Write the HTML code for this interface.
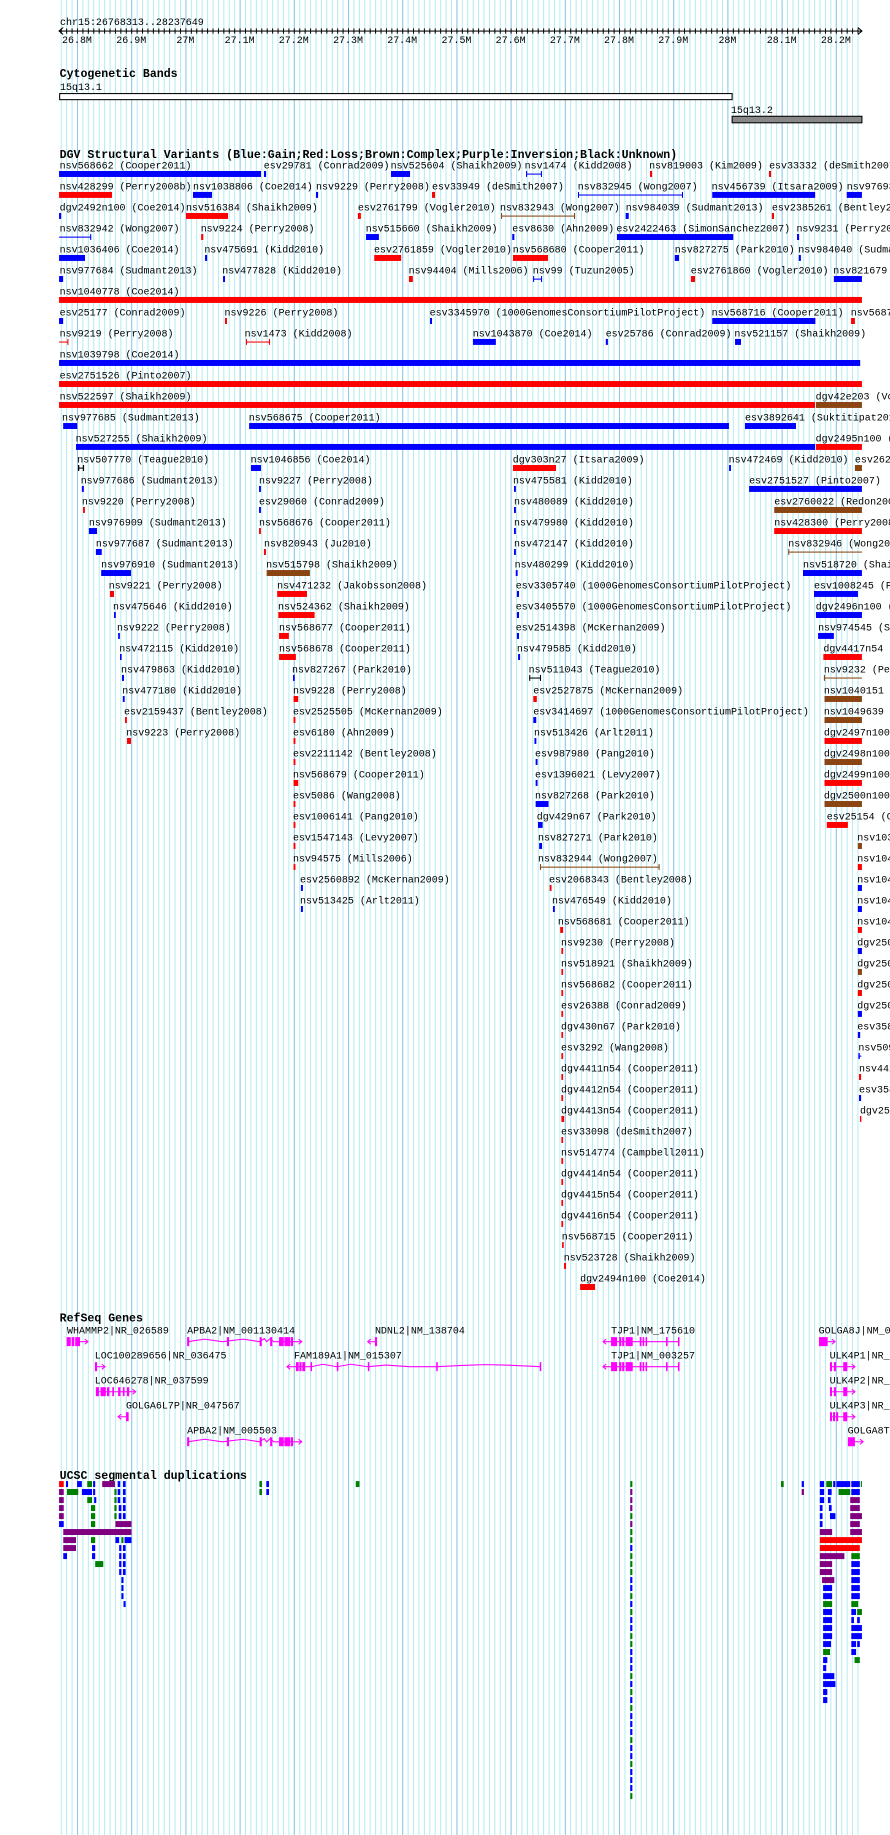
<!DOCTYPE html>
<html><head><meta charset="utf-8"><style>
html,body{margin:0;padding:0;background:#fff;}
svg{display:block;}
text{font-family:"Liberation Mono",monospace;font-size:8.55px;fill:#000;}
text.t{font-weight:bold;font-size:9.9px;}
.b{fill:#0000ff}.r{fill:#ff0000}.n{fill:#8b4513}.p{fill:#800080}.g{fill:#008000}.k{fill:#000}.m{fill:#ff00ff}
</style></head><body>
<svg width="890" height="1835" viewBox="0 0 761 1569" xmlns="http://www.w3.org/2000/svg">
<defs>
<pattern id="minor" patternUnits="userSpaceOnUse" x="65.84" y="0" width="4.6345" height="10"><rect x="0" y="0" width="0.85" height="10" fill="#b2ecf2"/></pattern>
<pattern id="major" patternUnits="userSpaceOnUse" x="65.84" y="0" width="46.345" height="10"><rect x="0" y="0" width="0.85" height="10" fill="#8cc6ea"/></pattern>
<pattern id="tick" patternUnits="userSpaceOnUse" x="65.84" y="0" width="4.6345" height="10"><rect x="0" y="0" width="0.85" height="10" fill="#000"/></pattern>
</defs>
<rect x="0" y="0" width="761" height="1569" fill="#fff"/>
<rect x="50.5" y="0" width="686.5" height="1569" fill="url(#minor)"/>
<rect x="50.5" y="0" width="686.5" height="1569" fill="url(#major)"/>

<!-- ruler -->
<text x="51.3" y="21.4">chr15:26768313..28237649</text>
<rect x="50.5" y="26.1" width="686.5" height="0.9" class="k"/>
<rect x="50.5" y="24.3" width="686.5" height="4.5" fill="url(#tick)"/>
<polyline points="54,23.5 50.5,26.5 54,29.5" fill="none" stroke="#000" stroke-width="0.9"/>
<polyline points="733.5,23.5 737,26.5 733.5,29.5" fill="none" stroke="#000" stroke-width="0.9"/>
<g text-anchor="middle">
<text x="65.8" y="36.8">26.8M</text><text x="112.2" y="36.8">26.9M</text><text x="158.5" y="36.8">27M</text>
<text x="204.9" y="36.8">27.1M</text><text x="251.2" y="36.8">27.2M</text><text x="297.6" y="36.8">27.3M</text>
<text x="343.9" y="36.8">27.4M</text><text x="390.3" y="36.8">27.5M</text><text x="436.6" y="36.8">27.6M</text>
<text x="483" y="36.8">27.7M</text><text x="529.3" y="36.8">27.8M</text><text x="575.7" y="36.8">27.9M</text>
<text x="622" y="36.8">28M</text><text x="668.4" y="36.8">28.1M</text><text x="714.7" y="36.8">28.2M</text>
</g>

<!-- cytobands -->
<text class="t" x="51" y="65.8">Cytogenetic Bands</text>
<text x="51.3" y="77">15q13.1</text>
<rect x="51" y="80" width="575" height="5.2" fill="#fff" stroke="#000" stroke-width="0.9"/>
<text x="625" y="96.6">15q13.2</text>
<rect x="626" y="99.4" width="111" height="5.6" fill="#888" stroke="#000" stroke-width="0.9"/>

<!-- DGV -->
<text class="t" x="51" y="135.1">DGV Structural Variants (Blue:Gain;Red:Loss;Brown:Complex;Purple:Inversion;Black:Unknown)</text>

<g transform="translate(0,144.1)">
<text x="51">nsv568662 (Cooper2011)</text><rect class="b" x="50.5" y="2.1" width="172.7" height="5.1"/>
<text x="225.5">esv29781 (Conrad2009)</text><rect class="b" x="225.7" y="2.1" width="1.8" height="5.1"/>
<text x="334">nsv525604 (Shaikh2009)</text><rect class="b" x="334.3" y="2.1" width="16.3" height="5.1"/>
<text x="448.6">nsv1474 (Kidd2008)</text><rect class="b" x="449.8" y="4.3" width="13.6" height="0.9"/><rect class="b" x="449.8" y="2.1" width="0.9" height="5.1"/><rect class="b" x="462.5" y="2.1" width="0.9" height="5.1"/>
<text x="555">nsv819003 (Kim2009)</text><rect class="r" x="555.8" y="2.1" width="1.8" height="5.1"/>
<text x="657.6">esv33332 (deSmith2007)</text><rect class="r" x="657.5" y="2.1" width="1.8" height="5.1"/>
</g>
<g transform="translate(0,162)">
<text x="51">nsv428299 (Perry2008b)</text><rect class="r" x="50.5" y="2.1" width="45.3" height="5.1"/>
<text x="165">nsv1038806 (Coe2014)</text><rect class="b" x="165" y="2.1" width="16.3" height="5.1"/>
<text x="270.2">nsv9229 (Perry2008)</text><rect class="b" x="270.2" y="2.1" width="1.8" height="5.1"/>
<text x="369.4">esv33949 (deSmith2007)</text><rect class="r" x="369.4" y="2.1" width="2.6" height="5.1"/>
<text x="494">nsv832945 (Wong2007)</text><rect class="b" x="494.2" y="4.3" width="89.8" height="0.9"/><rect class="b" x="494.2" y="2.1" width="0.9" height="5.1"/><rect class="b" x="583.1" y="2.1" width="0.9" height="5.1"/>
<text x="608.5">nsv456739 (Itsara2009)</text><rect class="b" x="609" y="2.1" width="88" height="5.1"/>
<text x="724">nsv976938 (Sudmant2013)</text><rect class="b" x="724" y="2.1" width="13" height="5.1"/>
</g>
<g transform="translate(0,180)">
<text x="51">dgv2492n100 (Coe2014)</text><rect class="b" x="50.5" y="2.1" width="1.8" height="5.1"/>
<text x="159">nsv516384 (Shaikh2009)</text><rect class="r" x="159" y="2.1" width="36" height="5.1"/>
<text x="306">esv2761799 (Vogler2010)</text><rect class="r" x="306" y="2.1" width="2.6" height="5.1"/>
<text x="427.5">nsv832943 (Wong2007)</text><rect class="n" x="428.4" y="4.3" width="63.3" height="0.9"/><rect class="n" x="428.4" y="2.1" width="0.9" height="5.1"/><rect class="n" x="490.8" y="2.1" width="0.9" height="5.1"/>
<text x="535">nsv984039 (Sudmant2013)</text><rect class="b" x="535" y="2.1" width="2.6" height="5.1"/>
<text x="660">esv2385261 (Bentley2008)</text><rect class="r" x="660" y="2.1" width="1.8" height="5.1"/>
</g>
<g transform="translate(0,198)">
<text x="51">nsv832942 (Wong2007)</text><rect class="b" x="50.5" y="4.3" width="27.5" height="0.9"/><rect class="b" x="77.1" y="2.1" width="0.9" height="5.1"/>
<text x="171.6">nsv9224 (Perry2008)</text><rect class="r" x="172" y="2.1" width="1.8" height="5.1"/>
<text x="312.7">nsv515660 (Shaikh2009)</text><rect class="b" x="313" y="2.1" width="11" height="5.1"/>
<text x="438">esv8630 (Ahn2009)</text><rect class="b" x="438" y="2.1" width="1.8" height="5.1"/>
<text x="527">esv2422463 (SimonSanchez2007)</text><rect class="b" x="527.5" y="2.1" width="99.5" height="5.1"/>
<text x="681">nsv9231 (Perry2008)</text><rect class="b" x="681.5" y="2.1" width="1.8" height="5.1"/>
</g>
<g transform="translate(0,215.9)">
<text x="51">nsv1036406 (Coe2014)</text><rect class="b" x="50.5" y="2.1" width="22.2" height="5.1"/>
<text x="174.7">nsv475691 (Kidd2010)</text><rect class="b" x="175.3" y="2.1" width="1.8" height="5.1"/>
<text x="319.8">esv2761859 (Vogler2010)</text><rect class="r" x="320" y="2.1" width="23" height="5.1"/>
<text x="438.4">nsv568680 (Cooper2011)</text><rect class="r" x="438.6" y="2.1" width="30" height="5.1"/>
<text x="577">nsv827275 (Park2010)</text><rect class="b" x="577" y="2.1" width="3.6" height="5.1"/>
<text x="682.6">nsv984040 (Sudmant2013)</text><rect class="b" x="683" y="2.1" width="1.8" height="5.1"/>
</g>
<g transform="translate(0,233.9)">
<text x="51">nsv977684 (Sudmant2013)</text><rect class="b" x="50.5" y="2.1" width="3.5" height="5.1"/>
<text x="190">nsv477828 (Kidd2010)</text><rect class="b" x="190.7" y="2.1" width="1.7" height="5.1"/>
<text x="349.4">nsv94404 (Mills2006)</text><rect class="r" x="349.7" y="2.1" width="3.3" height="5.1"/>
<text x="455.5">nsv99 (Tuzun2005)</text><rect class="b" x="455.8" y="4.3" width="7.7" height="0.9"/><rect class="b" x="455.8" y="2.1" width="0.9" height="5.1"/><rect class="b" x="462.6" y="2.1" width="0.9" height="5.1"/>
<text x="590.6">esv2761860 (Vogler2010)</text><rect class="r" x="590.8" y="2.1" width="3.5" height="5.1"/>
<text x="712.5">nsv821679 (Park2010)</text><rect class="b" x="713" y="2.1" width="24" height="5.1"/>
</g>
<g transform="translate(0,251.8)">
<text x="51">nsv1040778 (Coe2014)</text><rect class="r" x="50.5" y="2.1" width="686.5" height="5.1"/>
</g>
<g transform="translate(0,269.8)">
<text x="51">esv25177 (Conrad2009)</text><rect class="b" x="50.5" y="2.1" width="3.5" height="5.1"/>
<text x="192">nsv9226 (Perry2008)</text><rect class="r" x="192.4" y="2.1" width="1.7" height="5.1"/>
<text x="367.4">esv3345970 (1000GenomesConsortiumPilotProject)</text><rect class="b" x="367.7" y="2.1" width="1.7" height="5.1"/>
<text x="608.5">nsv568716 (Cooper2011)</text><rect class="b" x="609" y="2.1" width="88.2" height="5.1"/>
<text x="727.4">nsv568717 (Cooper2011)</text><rect class="r" x="727.7" y="2.1" width="3.3" height="5.1"/>
</g>
<g transform="translate(0,287.7)">
<text x="51">nsv9219 (Perry2008)</text><rect class="r" x="50.5" y="4.3" width="8" height="0.9"/><rect class="r" x="57.6" y="2.1" width="0.9" height="5.1"/>
<text x="209.2">nsv1473 (Kidd2008)</text><rect class="r" x="210.3" y="4.3" width="20.6" height="0.9"/><rect class="r" x="210.3" y="2.1" width="0.9" height="5.1"/><rect class="r" x="230" y="2.1" width="0.9" height="5.1"/>
<text x="404.2">nsv1043870 (Coe2014)</text><rect class="b" x="404.4" y="2.1" width="19.6" height="5.1"/>
<text x="517.9">esv25786 (Conrad2009)</text><rect class="b" x="518" y="2.1" width="1.8" height="5.1"/>
<text x="627.9">nsv521157 (Shaikh2009)</text><rect class="b" x="628.5" y="2.1" width="5.1" height="5.1"/>
</g>
<g transform="translate(0,305.7)">
<text x="51">nsv1039798 (Coe2014)</text><rect class="b" x="50.5" y="2.1" width="685" height="5.1"/>
</g>
<g transform="translate(0,323.7)">
<text x="51">esv2751526 (Pinto2007)</text><rect class="r" x="50.5" y="2.1" width="686.5" height="5.1"/>
</g>
<g transform="translate(0,341.6)">
<text x="51">nsv522597 (Shaikh2009)</text><rect class="r" x="50.5" y="2.1" width="646.4" height="5.1"/>
<text x="697.4">dgv42e203 (Vogler2010)</text><rect class="n" x="697.7" y="2.1" width="39.3" height="5.1"/>
</g>
<g transform="translate(0,359.6)">
<text x="53">nsv977685 (Sudmant2013)</text><rect class="b" x="54" y="2.1" width="12" height="5.1"/>
<text x="212.7">nsv568675 (Cooper2011)</text><rect class="b" x="213" y="2.1" width="410.3" height="5.1"/>
<text x="637">esv3892641 (Suktitipat2014)</text><rect class="b" x="637" y="2.1" width="43.6" height="5.1"/>
</g>
<g transform="translate(0,377.5)">
<text x="64.7">nsv527255 (Shaikh2009)</text><rect class="b" x="65" y="2.1" width="632" height="5.1"/>
<text x="697.4">dgv2495n100 (Coe2014)</text><rect class="r" x="697.7" y="2.1" width="39.3" height="5.1"/>
</g>
<g transform="translate(0,395.5)">
<text x="66.1">nsv507770 (Teague2010)</text><rect class="k" x="66.7" y="4.3" width="5.1" height="0.9"/><rect class="k" x="66.7" y="2.1" width="1.1" height="5.1"/><rect class="k" x="70.8" y="2.1" width="1.1" height="5.1"/>
<text x="214.3">nsv1046856 (Coe2014)</text><rect class="b" x="214.6" y="2.1" width="8.6" height="5.1"/>
<text x="438.4">dgv303n27 (Itsara2009)</text><rect class="r" x="438.6" y="2.1" width="36.8" height="5.1"/>
<text x="623">nsv472469 (Kidd2010)</text><rect class="b" x="623.4" y="2.1" width="1.6" height="5.1"/>
<text x="731">esv2621 (Conrad2009)</text><rect class="n" x="731" y="2.1" width="6" height="5.1"/>
</g>
<g transform="translate(0,413.4)">
<text x="69">nsv977686 (Sudmant2013)</text><rect class="b" x="70" y="2.1" width="1.7" height="5.1"/>
<text x="221.5">nsv9227 (Perry2008)</text><rect class="b" x="221.5" y="2.1" width="1.6" height="5.1"/>
<text x="438.6">nsv475581 (Kidd2010)</text><rect class="b" x="439.5" y="2.1" width="1.6" height="5.1"/>
<text x="640.5">esv2751527 (Pinto2007)</text><rect class="b" x="640.5" y="2.1" width="96.5" height="5.1"/>
</g>
<g transform="translate(0,431.4)">
<text x="70">nsv9220 (Perry2008)</text><rect class="r" x="71" y="2.1" width="1.6" height="5.1"/>
<text x="221.5">esv29060 (Conrad2009)</text><rect class="b" x="221.5" y="2.1" width="1.6" height="5.1"/>
<text x="439.5">nsv480089 (Kidd2010)</text><rect class="b" x="439.5" y="2.1" width="1.6" height="5.1"/>
<text x="662">esv2760022 (Redon2006)</text><rect class="n" x="662" y="2.1" width="75" height="5.1"/>
</g>
<g transform="translate(0,449.4)">
<text x="76">nsv976909 (Sudmant2013)</text><rect class="b" x="76" y="2.1" width="7" height="5.1"/>
<text x="221.5">nsv568676 (Cooper2011)</text><rect class="r" x="221.5" y="2.1" width="1.6" height="5.1"/>
<text x="439.5">nsv479980 (Kidd2010)</text><rect class="b" x="439.5" y="2.1" width="1.6" height="5.1"/>
<text x="662">nsv428300 (Perry2008b)</text><rect class="r" x="662" y="2.1" width="75" height="5.1"/>
</g>
<g transform="translate(0,467.3)">
<text x="82">nsv977687 (Sudmant2013)</text><rect class="b" x="82" y="2.1" width="5" height="5.1"/>
<text x="225.7">nsv820943 (Ju2010)</text><rect class="r" x="225.7" y="2.1" width="1.7" height="5.1"/>
<text x="439.5">nsv472147 (Kidd2010)</text><rect class="b" x="439.5" y="2.1" width="1.6" height="5.1"/>
<text x="674">nsv832946 (Wong2007)</text><rect class="n" x="674" y="4.3" width="63" height="0.9"/><rect class="n" x="674" y="2.1" width="0.9" height="5.1"/>
</g>
<g transform="translate(0,485.3)">
<text x="86.5">nsv976910 (Sudmant2013)</text><rect class="b" x="86.5" y="2.1" width="25.5" height="5.1"/>
<text x="227.5">nsv515798 (Shaikh2009)</text><rect class="n" x="228" y="2.1" width="37" height="5.1"/>
<text x="440">nsv480299 (Kidd2010)</text><rect class="b" x="441" y="2.1" width="1.6" height="5.1"/>
<text x="686.6">nsv518720 (Shaikh2009)</text><rect class="b" x="686.6" y="2.1" width="50.4" height="5.1"/>
</g>
<g transform="translate(0,503.2)">
<text x="93">nsv9221 (Perry2008)</text><rect class="r" x="94" y="2.1" width="3.5" height="5.1"/>
<text x="237">nsv471232 (Jakobsson2008)</text><rect class="r" x="237" y="2.1" width="25.5" height="5.1"/>
<text x="441">esv3305740 (1000GenomesConsortiumPilotProject)</text><rect class="b" x="442" y="2.1" width="1.8" height="5.1"/>
<text x="696">esv1008245 (Pang2010)</text><rect class="b" x="696" y="2.1" width="37.6" height="5.1"/>
</g>
<g transform="translate(0,521.2)">
<text x="96.6">nsv475646 (Kidd2010)</text><rect class="b" x="97.5" y="2.1" width="1.5" height="5.1"/>
<text x="237.7">nsv524362 (Shaikh2009)</text><rect class="r" x="238" y="2.1" width="31" height="5.1"/>
<text x="441">esv3405570 (1000GenomesConsortiumPilotProject)</text><rect class="b" x="442" y="2.1" width="1.8" height="5.1"/>
<text x="697.5">dgv2496n100 (Coe2014)</text><rect class="b" x="697.7" y="2.1" width="39.3" height="5.1"/>
</g>
<g transform="translate(0,539.1)">
<text x="100">nsv9222 (Perry2008)</text><rect class="b" x="101" y="2.1" width="1.5" height="5.1"/>
<text x="238.6">nsv568677 (Cooper2011)</text><rect class="r" x="238.6" y="2.1" width="8.4" height="5.1"/>
<text x="441">esv2514398 (McKernan2009)</text><rect class="b" x="442" y="2.1" width="1.8" height="5.1"/>
<text x="699.5">nsv974545 (Sudmant2013)</text><rect class="b" x="699.5" y="2.1" width="13.5" height="5.1"/>
</g>
<g transform="translate(0,557.1)">
<text x="102">nsv472115 (Kidd2010)</text><rect class="b" x="102.6" y="2.1" width="1.4" height="5.1"/>
<text x="238.6">nsv568678 (Cooper2011)</text><rect class="r" x="238.6" y="2.1" width="14.4" height="5.1"/>
<text x="442">nsv479585 (Kidd2010)</text><rect class="b" x="443" y="2.1" width="1.7" height="5.1"/>
<text x="704">dgv4417n54</text><rect class="r" x="704" y="2.1" width="33" height="5.1"/>
</g>
<g transform="translate(0,575)">
<text x="103.5">nsv479863 (Kidd2010)</text><rect class="b" x="104.3" y="2.1" width="1.7" height="5.1"/>
<text x="249.7">nsv827267 (Park2010)</text><rect class="b" x="250.5" y="2.1" width="1.5" height="5.1"/>
<text x="452">nsv511043 (Teague2010)</text><rect class="k" x="452.5" y="4.3" width="10.1" height="0.9"/><rect class="k" x="452.5" y="2.1" width="0.9" height="5.1"/><rect class="k" x="461.7" y="2.1" width="0.9" height="5.1"/>
<text x="704.5">nsv9232 (Perry2008)</text><rect class="n" x="704.5" y="4.3" width="32.5" height="0.9"/><rect class="n" x="704.5" y="2.1" width="0.9" height="5.1"/>
</g>
<g transform="translate(0,593)">
<text x="104.5">nsv477180 (Kidd2010)</text><rect class="b" x="105" y="2.1" width="1.6" height="5.1"/>
<text x="250.5">nsv9228 (Perry2008)</text><rect class="r" x="251" y="2.1" width="4" height="5.1"/>
<text x="456">esv2527875 (McKernan2009)</text><rect class="r" x="456" y="2.1" width="3" height="5.1"/>
<text x="704.5">nsv1040151</text><rect class="n" x="705" y="2.1" width="32" height="5.1"/>
</g>
<g transform="translate(0,611)">
<text x="106">esv2159437 (Bentley2008)</text><rect class="r" x="106.9" y="2.1" width="1.6" height="5.1"/>
<text x="250.5">esv2525505 (McKernan2009)</text><rect class="r" x="251" y="2.1" width="1.6" height="5.1"/>
<text x="456">esv3414697 (1000GenomesConsortiumPilotProject)</text><rect class="b" x="456" y="2.1" width="2.5" height="5.1"/>
<text x="704.5">nsv1049639</text><rect class="n" x="705" y="2.1" width="32" height="5.1"/>
</g>
<g transform="translate(0,628.9)">
<text x="108">nsv9223 (Perry2008)</text><rect class="r" x="108.6" y="2.1" width="3.4" height="5.1"/>
<text x="250.5">esv6180 (Ahn2009)</text><rect class="r" x="251" y="2.1" width="1.6" height="5.1"/>
<text x="456.6">nsv513426 (Arlt2011)</text><rect class="b" x="457" y="2.1" width="1.6" height="5.1"/>
<text x="704.5">dgv2497n100</text><rect class="r" x="705" y="2.1" width="32" height="5.1"/>
</g>
<g transform="translate(0,646.9)">
<text x="250.5">esv2211142 (Bentley2008)</text><rect class="r" x="251" y="2.1" width="1.6" height="5.1"/>
<text x="457.5">esv987980 (Pang2010)</text><rect class="b" x="458" y="2.1" width="1.6" height="5.1"/>
<text x="704.5">dgv2498n100</text><rect class="n" x="705" y="2.1" width="32" height="5.1"/>
</g>
<g transform="translate(0,664.8)">
<text x="250.5">nsv568679 (Cooper2011)</text><rect class="r" x="251" y="2.1" width="4" height="5.1"/>
<text x="457.5">esv1396021 (Levy2007)</text><rect class="b" x="458" y="2.1" width="1.6" height="5.1"/>
<text x="704.5">dgv2499n100</text><rect class="r" x="705" y="2.1" width="32" height="5.1"/>
</g>
<g transform="translate(0,682.8)">
<text x="250.5">esv5086 (Wang2008)</text><rect class="r" x="251" y="2.1" width="1.6" height="5.1"/>
<text x="457.5">nsv827268 (Park2010)</text><rect class="b" x="458" y="2.1" width="11" height="5.1"/>
<text x="704.5">dgv2500n100</text><rect class="n" x="705" y="2.1" width="32" height="5.1"/>
</g>
<g transform="translate(0,700.7)">
<text x="250.5">esv1006141 (Pang2010)</text><rect class="r" x="251" y="2.1" width="1.6" height="5.1"/>
<text x="459">dgv429n67 (Park2010)</text><rect class="b" x="460" y="2.1" width="4" height="5.1"/>
<text x="706.9">esv25154 (Conrad2009)</text><rect class="r" x="707" y="2.1" width="18" height="5.1"/>
</g>
<g transform="translate(0,718.7)">
<text x="250.5">esv1547143 (Levy2007)</text><rect class="r" x="251" y="2.1" width="1.6" height="5.1"/>
<text x="460">nsv827271 (Park2010)</text><rect class="b" x="461" y="2.1" width="2.5" height="5.1"/>
<text x="733">nsv1036411</text><rect class="n" x="733.5" y="2.1" width="3.5" height="5.1"/>
</g>
<g transform="translate(0,736.7)">
<text x="250.5">nsv94575 (Mills2006)</text><rect class="r" x="251" y="2.1" width="1.6" height="5.1"/>
<text x="460">nsv832944 (Wong2007)</text><rect class="n" x="461.7" y="4.3" width="102.3" height="0.9"/><rect class="n" x="461.7" y="2.1" width="0.9" height="5.1"/><rect class="n" x="563.1" y="2.1" width="0.9" height="5.1"/>
<text x="733">nsv1041234</text><rect class="r" x="733.5" y="2.1" width="3.5" height="5.1"/>
</g>
<g transform="translate(0,754.6)">
<text x="256.5">esv2560892 (McKernan2009)</text><rect class="b" x="257.3" y="2.1" width="1.7" height="5.1"/>
<text x="469.4">esv2068343 (Bentley2008)</text><rect class="r" x="470" y="2.1" width="1.6" height="5.1"/>
<text x="733">nsv1042345</text><rect class="b" x="733.5" y="2.1" width="3.5" height="5.1"/>
</g>
<g transform="translate(0,772.6)">
<text x="256.5">nsv513425 (Arlt2011)</text><rect class="b" x="257.3" y="2.1" width="1.7" height="5.1"/>
<text x="472">nsv476549 (Kidd2010)</text><rect class="b" x="472.8" y="2.1" width="1.6" height="5.1"/>
<text x="733">nsv1043456</text><rect class="b" x="733.5" y="2.1" width="3.5" height="5.1"/>
</g>
<g transform="translate(0,790.5)">
<text x="477">nsv568681 (Cooper2011)</text><rect class="r" x="479" y="2.1" width="2.5" height="5.1"/>
<text x="733">nsv1044567</text><rect class="r" x="733.5" y="2.1" width="3.5" height="5.1"/>
</g>
<g transform="translate(0,808.5)">
<text x="479.7">nsv9230 (Perry2008)</text><rect class="r" x="480" y="2.1" width="1.5" height="5.1"/>
<text x="733">dgv2501n100</text><rect class="b" x="733.5" y="2.1" width="3.5" height="5.1"/>
</g>
<g transform="translate(0,826.4)">
<text x="479.7">nsv518921 (Shaikh2009)</text><rect class="r" x="480" y="2.1" width="1.5" height="5.1"/>
<text x="733">dgv2502n100</text><rect class="n" x="733.5" y="2.1" width="3.5" height="5.1"/>
</g>
<g transform="translate(0,844.4)">
<text x="479.7">nsv568682 (Cooper2011)</text><rect class="r" x="480" y="2.1" width="1.5" height="5.1"/>
<text x="733">dgv2503n100</text><rect class="r" x="733.5" y="2.1" width="3.5" height="5.1"/>
</g>
<g transform="translate(0,862.3)">
<text x="479.7">esv26388 (Conrad2009)</text><rect class="r" x="480" y="2.1" width="1.5" height="5.1"/>
<text x="733">dgv2504n100</text><rect class="b" x="733.5" y="2.1" width="3.5" height="5.1"/>
</g>
<g transform="translate(0,880.3)">
<text x="479.7">dgv430n67 (Park2010)</text><rect class="r" x="480" y="2.1" width="1.5" height="5.1"/>
<text x="733">esv3585</text><rect class="b" x="733.5" y="2.1" width="2" height="5.1"/>
</g>
<g transform="translate(0,898.3)">
<text x="479.7">esv3292 (Wang2008)</text><rect class="r" x="480" y="2.1" width="1.5" height="5.1"/>
<text x="734">nsv5091</text><rect class="b" x="734" y="2.1" width="1.2" height="5.1"/><rect class="b" x="734" y="4.3" width="2.5" height="0.9"/>
</g>
<g transform="translate(0,916.2)">
<text x="479.7">dgv4411n54 (Cooper2011)</text><rect class="r" x="480" y="2.1" width="1.5" height="5.1"/>
<text x="734.5">nsv4421</text><rect class="r" x="734.5" y="2.1" width="1.8" height="5.1"/>
</g>
<g transform="translate(0,934.2)">
<text x="479.7">dgv4412n54 (Cooper2011)</text><rect class="r" x="480" y="2.1" width="1.5" height="5.1"/>
<text x="734.5">esv3586</text><rect class="b" x="734.5" y="2.1" width="1.8" height="5.1"/>
</g>
<g transform="translate(0,952.1)">
<text x="479.7">dgv4413n54 (Cooper2011)</text><rect class="r" x="480" y="2.1" width="2.4" height="5.1"/>
<text x="735.3">dgv25</text><rect class="r" x="735.3" y="2.1" width="1.2" height="5.1"/>
</g>
<g transform="translate(0,970.1)"><text x="479.7">esv33098 (deSmith2007)</text><rect class="r" x="480" y="2.1" width="1.5" height="5.1"/></g>
<g transform="translate(0,988)"><text x="479.7">nsv514774 (Campbell2011)</text><rect class="r" x="480" y="2.1" width="1.5" height="5.1"/></g>
<g transform="translate(0,1006)"><text x="479.7">dgv4414n54 (Cooper2011)</text><rect class="r" x="480" y="2.1" width="1.5" height="5.1"/></g>
<g transform="translate(0,1023.9)"><text x="479.7">dgv4415n54 (Cooper2011)</text><rect class="r" x="480" y="2.1" width="1.5" height="5.1"/></g>
<g transform="translate(0,1041.9)"><text x="479.7">dgv4416n54 (Cooper2011)</text><rect class="r" x="480" y="2.1" width="1.5" height="5.1"/></g>
<g transform="translate(0,1059.9)"><text x="480.3">nsv568715 (Cooper2011)</text><rect class="r" x="480.6" y="2.1" width="1.4" height="5.1"/></g>
<g transform="translate(0,1077.8)"><text x="482">nsv523728 (Shaikh2009)</text><rect class="r" x="482.3" y="2.1" width="1.7" height="5.1"/></g>
<g transform="translate(0,1095.8)"><text x="496">dgv2494n100 (Coe2014)</text><rect class="r" x="496" y="2.1" width="12.8" height="5.1"/></g>

<!-- RefSeq -->
<text class="t" x="51" y="1130">RefSeq Genes</text>
<g fill="none" stroke="#ff00ff" stroke-width="0.9">
<!-- row A center 1147.2 -->
<polyline points="68.4,1147.2 75.2,1147.2"/><polyline points="72.5,1145 75.2,1147.2 72.5,1149.4"/>
<polyline points="160.5,1147.2 175,1145 190,1147.2 208,1145 222,1147.2 226,1144.5 228,1147.2 231,1144.5 234,1147.2 258,1147.2"/><polyline points="255.3,1145 258,1147.2 255.3,1149.4"/>
<polyline points="314.4,1147.2 321,1147.2"/><polyline points="317.1,1145 314.4,1147.2 317.1,1149.4"/>
<polyline points="515.6,1147.2 580,1147.2"/><polyline points="518.3,1145 515.6,1147.2 518.3,1149.4"/>
<polyline points="707.7,1147.2 714,1147.2"/><polyline points="711.3,1145 714,1147.2 711.3,1149.4"/>
<!-- row B 1168.6 -->
<polyline points="81.5,1168.6 89.8,1168.6"/><polyline points="87.1,1166.4 89.8,1168.6 87.1,1170.8"/>
<polyline points="245.4,1168.6 266,1168.6 276,1166.5 288,1168.6 300,1166.5 314.7,1168.6 330,1167.2 350,1168.6 373.4,1168.6 395,1167.5 415,1166.8 435,1167.3 462.3,1168.6"/><polyline points="248.1,1166.4 245.4,1168.6 248.1,1170.8"/>
<polyline points="515.6,1168.6 580,1168.6"/><polyline points="518.3,1166.4 515.6,1168.6 518.3,1170.8"/>
<polyline points="709.7,1168.6 731,1168.6"/><polyline points="728.3,1166.4 731,1168.6 728.3,1170.8"/>
<!-- row C 1190 -->
<polyline points="82,1190 116,1190"/><polyline points="113.3,1187.8 116,1190 113.3,1192.2"/>
<polyline points="709.7,1190 731,1190"/><polyline points="728.3,1187.8 731,1190 728.3,1192.2"/>
<!-- row D 1211.4 -->
<polyline points="101,1211.4 108,1211.4"/><polyline points="103.7,1209.2 101,1211.4 103.7,1213.6"/>
<polyline points="709.7,1211.4 731,1211.4"/><polyline points="728.3,1209.2 731,1211.4 728.3,1213.6"/>
<!-- row E 1232.8 -->
<polyline points="160.5,1232.8 175,1230.6 190,1232.8 208,1230.6 222,1232.8 226,1230.1 228,1232.8 231,1230.1 234,1232.8 258,1232.8"/><polyline points="255.3,1230.6 258,1232.8 255.3,1235"/>
<polyline points="731,1232.8 738,1232.8"/><polyline points="735.3,1230.6 738,1232.8 735.3,1235"/>
</g>
<g class="m">
<rect x="57" y="1143.3" width="3.5" height="7.7"/><rect x="61.3" y="1143.3" width="2.2" height="7.7"/><rect x="64.3" y="1143.3" width="4.1" height="7.7"/>
<rect x="160" y="1143.3" width="1.8" height="7.7"/><rect x="194" y="1143.3" width="1.8" height="7.7"/><rect x="222" y="1143.3" width="1.8" height="7.7"/><rect x="231" y="1143.3" width="1.8" height="7.7"/><rect x="238.6" y="1143.3" width="4" height="7.7"/><rect x="243.2" y="1143.3" width="5" height="7.7"/><rect x="248.8" y="1143.3" width="1.8" height="7.7"/>
<rect x="320.6" y="1143.3" width="1.8" height="7.7"/>
<rect x="522.5" y="1143.3" width="5.1" height="7.7"/><rect x="529.5" y="1143.3" width="1.8" height="7.7"/><rect x="532" y="1143.3" width="1.8" height="7.7"/><rect x="535" y="1143.3" width="6" height="7.7"/><rect x="547" y="1143.3" width="1.5" height="7.7"/><rect x="549.5" y="1143.3" width="1.3" height="7.7"/><rect x="552" y="1143.3" width="1.3" height="7.7"/><rect x="569.5" y="1143.3" width="1.3" height="7.7"/><rect x="579.7" y="1143.3" width="1.3" height="7.7"/>
<rect x="700.3" y="1143.3" width="7.4" height="7.7"/>
<rect x="81.2" y="1164.7" width="1.8" height="7.7"/>
<rect x="253" y="1164.7" width="2.4" height="7.7"/><rect x="256" y="1164.7" width="1.8" height="7.7"/><rect x="258.5" y="1164.7" width="2.5" height="7.7"/><rect x="265.5" y="1164.7" width="1.3" height="7.7"/><rect x="288" y="1164.7" width="1.3" height="7.7"/><rect x="314.5" y="1164.7" width="1.3" height="7.7"/><rect x="373" y="1164.7" width="1.3" height="7.7"/><rect x="461.5" y="1164.7" width="1.3" height="7.7"/>
<rect x="522.5" y="1164.7" width="5.1" height="7.7"/><rect x="529.5" y="1164.7" width="1.8" height="7.7"/><rect x="532" y="1164.7" width="1.8" height="7.7"/><rect x="535" y="1164.7" width="6" height="7.7"/><rect x="547" y="1164.7" width="1.5" height="7.7"/><rect x="549.5" y="1164.7" width="1.3" height="7.7"/><rect x="552" y="1164.7" width="1.3" height="7.7"/><rect x="569.5" y="1164.7" width="1.3" height="7.7"/><rect x="579.7" y="1164.7" width="1.3" height="7.7"/>
<rect x="709.7" y="1164.7" width="1.7" height="7.7"/><rect x="713" y="1164.7" width="1.8" height="7.7"/><rect x="721" y="1164.7" width="3.5" height="7.7"/>
<rect x="82" y="1186.1" width="2.6" height="7.7"/><rect x="86" y="1186.1" width="4.5" height="7.7"/><rect x="91.5" y="1186.1" width="2" height="7.7"/><rect x="96" y="1186.1" width="1.5" height="7.7"/><rect x="101" y="1186.1" width="2" height="7.7"/><rect x="105" y="1186.1" width="1.5" height="7.7"/><rect x="108.5" y="1186.1" width="2" height="7.7"/>
<rect x="709.7" y="1186.1" width="1.7" height="7.7"/><rect x="713" y="1186.1" width="1.8" height="7.7"/><rect x="721" y="1186.1" width="3.5" height="7.7"/>
<rect x="107.7" y="1207.5" width="2.3" height="7.7"/>
<rect x="709.7" y="1207.5" width="1.7" height="7.7"/><rect x="712.3" y="1207.5" width="1.7" height="7.7"/><rect x="715" y="1207.5" width="1.7" height="7.7"/><rect x="721" y="1207.5" width="3.5" height="7.7"/>
<rect x="160" y="1228.9" width="1.8" height="7.7"/><rect x="194" y="1228.9" width="1.8" height="7.7"/><rect x="222" y="1228.9" width="1.8" height="7.7"/><rect x="231" y="1228.9" width="1.8" height="7.7"/><rect x="238.6" y="1228.9" width="4" height="7.7"/><rect x="243.2" y="1228.9" width="5" height="7.7"/><rect x="248.8" y="1228.9" width="1.8" height="7.7"/>
<rect x="725" y="1228.9" width="6" height="7.7"/>
</g>
<text x="57.3" y="1140.1">WHAMMP2|NR_026589</text>
<text x="160" y="1140.1">APBA2|NM_001130414</text>
<text x="320.6" y="1140.1">NDNL2|NM_138704</text>
<text x="522.5" y="1140.1">TJP1|NM_175610</text>
<text x="700" y="1140.1">GOLGA8J|NM_001282469</text>
<text x="81" y="1161.5">LOC100289656|NR_036475</text>
<text x="251.4" y="1161.5">FAM189A1|NM_015307</text>
<text x="522.5" y="1161.5">TJP1|NM_003257</text>
<text x="709.4" y="1161.5">ULK4P1|NR_003608</text>
<text x="81" y="1182.9">LOC646278|NR_037599</text>
<text x="709.4" y="1182.9">ULK4P2|NR_003609</text>
<text x="107.7" y="1204.3">GOLGA6L7P|NR_047567</text>
<text x="709.4" y="1204.3">ULK4P3|NR_003610</text>
<text x="160" y="1225.7">APBA2|NM_005503</text>
<text x="724.8" y="1225.7">GOLGA8T</text>

<!-- Segdups -->
<text class="t" x="51" y="1264.6">UCSC segmental duplications</text>
<g transform="translate(0,1266.4)">
<rect class="r" x="50.5" width="4" height="5.1"/><rect class="b" x="56.4" width="1.8" height="5.1"/><rect class="b" x="65.9" width="4.1" height="5.1"/><rect class="g" x="74.6" width="4.1" height="5.1"/><rect class="b" x="79.6" width="1.8" height="5.1"/><rect class="p" x="87.4" width="10.9" height="5.1"/><rect class="b" x="100.6" width="2.2" height="5.1"/><rect class="b" x="105.1" width="2.3" height="5.1"/>
<rect class="g" x="221.8" width="2.2" height="5.1"/><rect class="b" x="227.7" width="2.3" height="5.1"/><rect class="g" x="304.2" width="3.2" height="5.1"/><rect class="g" x="538.9" width="1.8" height="5.1"/><rect class="g" x="667.8" width="2.3" height="5.1"/><rect class="b" x="685.5" width="1.9" height="5.1"/>
<rect class="b" x="701" width="3.7" height="5.1"/><rect class="g" x="706.5" width="5" height="5.1"/><rect class="b" x="712.4" width="1.9" height="5.1"/><rect class="b" x="715.2" width="11.8" height="5.1"/><rect class="b" x="727.9" width="7.3" height="5.1"/><rect class="g" x="736" width="1" height="5.1"/>
</g>
<g transform="translate(0,1273.2)">
<rect class="p" x="50.5" width="4" height="5.1"/><rect class="g" x="57.3" width="9.6" height="5.1"/><rect class="b" x="70" width="8.7" height="5.1"/><rect class="b" x="79.6" width="1.8" height="5.1"/><rect class="g" x="97.8" width="1.9" height="5.1"/><rect class="b" x="100.6" width="2.2" height="5.1"/><rect class="b" x="105.1" width="2.3" height="5.1"/>
<rect class="g" x="221.8" width="2.2" height="5.1"/><rect class="b" x="227.7" width="2.3" height="5.1"/><rect class="p" x="538.9" width="1.8" height="5.1"/><rect class="p" x="685.5" width="1.9" height="5.1"/>
<rect class="b" x="701" width="3.7" height="5.1"/><rect class="b" x="707.9" width="3.2" height="5.1"/><rect class="g" x="717" width="10" height="5.1"/><rect class="b" x="727.9" width="7.3" height="5.1"/>
</g>
<g transform="translate(0,1280.1)">
<rect class="p" x="50.5" width="4" height="5.1"/><rect class="g" x="74.6" width="4.1" height="5.1"/><rect class="b" x="80.5" width="1.8" height="5.1"/><rect class="g" x="97.8" width="1.9" height="5.1"/><rect class="b" x="100.6" width="2.2" height="5.1"/><rect class="b" x="105.1" width="2.3" height="5.1"/>
<rect class="p" x="538.9" width="1.8" height="5.1"/><rect class="b" x="701" width="3.7" height="5.1"/><rect class="b" x="707.9" width="2.3" height="5.1"/><rect class="p" x="727" width="8.2" height="5.1"/>
</g>
<g transform="translate(0,1286.9)">
<rect class="p" x="50.5" width="4" height="5.1"/><rect class="g" x="77.8" width="3.6" height="5.1"/><rect class="g" x="97.8" width="1.9" height="5.1"/><rect class="b" x="101.5" width="2.3" height="5.1"/><rect class="b" x="105.1" width="2.3" height="5.1"/>
<rect class="p" x="538.9" width="1.8" height="5.1"/><rect class="b" x="701" width="2.3" height="5.1"/><rect class="b" x="708.8" width="2.3" height="5.1"/><rect class="p" x="727" width="8.2" height="5.1"/>
</g>
<g transform="translate(0,1293.8)">
<rect class="p" x="50.5" width="4" height="5.1"/><rect class="g" x="77.8" width="3.6" height="5.1"/><rect class="g" x="97.8" width="1.9" height="5.1"/><rect class="b" x="101.5" width="2.3" height="5.1"/><rect class="b" x="105.1" width="2.3" height="5.1"/>
<rect class="g" x="538.9" width="1.8" height="5.1"/><rect class="b" x="701" width="2.3" height="5.1"/><rect class="b" x="709.7" width="4.6" height="5.1"/><rect class="p" x="727" width="10" height="5.1"/>
</g>
<g transform="translate(0,1300.6)">
<rect class="b" x="50.5" width="4" height="5.1"/><rect class="g" x="77.8" width="3.6" height="5.1"/><rect class="p" x="98.7" width="13.7" height="5.1"/>
<rect class="p" x="538.9" width="1.8" height="5.1"/><rect class="b" x="701" width="2.3" height="5.1"/><rect class="p" x="727" width="8.2" height="5.1"/>
</g>
<g transform="translate(0,1307.4)">
<rect class="p" x="54.1" width="58.3" height="5.1"/><rect class="g" x="538.9" width="1.8" height="5.1"/><rect class="p" x="701" width="10.5" height="5.1"/><rect class="p" x="727" width="10" height="5.1"/>
</g>
<g transform="translate(0,1314.3)">
<rect class="p" x="54.1" width="10.9" height="5.1"/><rect class="g" x="77.8" width="3.6" height="5.1"/><rect class="b" x="98.7" width="3.2" height="5.1"/><rect class="g" x="103.8" width="1.8" height="5.1"/><rect class="b" x="106.5" width="5.9" height="5.1"/>
<rect class="g" x="538.9" width="1.8" height="5.1"/><rect class="r" x="701" width="36" height="5.1"/>
</g>
<g transform="translate(0,1321.1)">
<rect class="p" x="54.1" width="10.9" height="5.1"/><rect class="b" x="78.7" width="2.7" height="5.1"/><rect class="b" x="101.9" width="1.9" height="5.1"/><rect class="b" x="105.1" width="2.3" height="5.1"/>
<rect class="b" x="538.9" width="1.8" height="5.1"/><rect class="r" x="701" width="34.2" height="5.1"/>
</g>
<g transform="translate(0,1328)">
<rect class="b" x="54.1" width="3.2" height="5.1"/><rect class="b" x="78.7" width="2.7" height="5.1"/><rect class="b" x="101.9" width="1.9" height="5.1"/><rect class="b" x="105.1" width="2.3" height="5.1"/>
<rect class="g" x="538.9" width="1.8" height="5.1"/><rect class="p" x="701" width="21" height="5.1"/><rect class="g" x="727.9" width="7.3" height="5.1"/>
</g>
<g transform="translate(0,1334.8)">
<rect class="g" x="81.4" width="6.9" height="5.1"/><rect class="b" x="101.9" width="1.9" height="5.1"/><rect class="b" x="105.1" width="2.3" height="5.1"/>
<rect class="g" x="538.9" width="1.8" height="5.1"/><rect class="p" x="701" width="10.5" height="5.1"/><rect class="b" x="727.9" width="7.3" height="5.1"/>
</g>
<g transform="translate(0,1341.6)">
<rect class="b" x="101.9" width="1.9" height="5.1"/><rect class="b" x="105.1" width="2.3" height="5.1"/>
<rect class="g" x="538.9" width="1.8" height="5.1"/><rect class="p" x="701" width="10.5" height="5.1"/><rect class="b" x="727.9" width="7.3" height="5.1"/>
</g>
<g transform="translate(0,1348.5)"><rect class="b" x="103.8" width="1.8" height="5.1"/><rect class="b" x="538.9" width="1.8" height="5.1"/><rect class="p" x="702.9" width="10.5" height="5.1"/><rect class="b" x="727.9" width="7.3" height="5.1"/></g>
<g transform="translate(0,1355.3)"><rect class="b" x="103.8" width="1.8" height="5.1"/><rect class="b" x="538.9" width="1.8" height="5.1"/><rect class="b" x="703.8" width="7.7" height="5.1"/><rect class="b" x="727.9" width="7.3" height="5.1"/></g>
<g transform="translate(0,1362.2)"><rect class="b" x="103.8" width="1.8" height="5.1"/><rect class="g" x="538.9" width="1.8" height="5.1"/><rect class="b" x="703.8" width="7.7" height="5.1"/><rect class="b" x="727.9" width="7.3" height="5.1"/></g>
<g transform="translate(0,1369)"><rect class="b" x="105.6" width="1.8" height="5.1"/><rect class="b" x="538.9" width="1.8" height="5.1"/><rect class="g" x="703.8" width="7.7" height="5.1"/><rect class="g" x="727.9" width="5.9" height="5.1"/></g>
<g transform="translate(0,1375.8)"><rect class="g" x="538.9" width="1.8" height="5.1"/><rect class="b" x="703.8" width="7.7" height="5.1"/><rect class="b" x="727.9" width="4.1" height="5.1"/><rect class="g" x="732.9" width="4.1" height="5.1"/></g>
<g transform="translate(0,1382.7)"><rect class="b" x="538.9" width="1.8" height="5.1"/><rect class="b" x="703.8" width="7.7" height="5.1"/><rect class="b" x="727.9" width="2.3" height="5.1"/><rect class="b" x="732.9" width="2.3" height="5.1"/></g>
<g transform="translate(0,1389.5)"><rect class="b" x="538.9" width="1.8" height="5.1"/><rect class="b" x="703.8" width="7.7" height="5.1"/><rect class="b" x="727.9" width="9.1" height="5.1"/></g>
<g transform="translate(0,1396.4)"><rect class="g" x="538.9" width="1.8" height="5.1"/><rect class="b" x="703.8" width="7.7" height="5.1"/><rect class="b" x="727.9" width="9.1" height="5.1"/></g>
<g transform="translate(0,1403.2)"><rect class="g" x="538.9" width="1.8" height="5.1"/><rect class="b" x="703.8" width="6.8" height="5.1"/><rect class="b" x="727.9" width="4.1" height="5.1"/><rect class="b" x="732.9" width="2.3" height="5.1"/></g>
<g transform="translate(0,1410)"><rect class="b" x="538.9" width="1.8" height="5.1"/><rect class="g" x="703.8" width="5.9" height="5.1"/><rect class="b" x="727.9" width="4.1" height="5.1"/></g>
<g transform="translate(0,1416.9)"><rect class="b" x="538.9" width="1.8" height="5.1"/><rect class="b" x="703.8" width="3.6" height="5.1"/><rect class="g" x="730.7" width="4.5" height="5.1"/></g>
<g transform="translate(0,1423.7)"><rect class="b" x="538.9" width="1.8" height="5.1"/><rect class="b" x="703.8" width="2.7" height="5.1"/></g>
<g transform="translate(0,1430.6)"><rect class="g" x="538.9" width="1.8" height="5.1"/><rect class="b" x="703.8" width="9.6" height="5.1"/></g>
<g transform="translate(0,1437.4)"><rect class="b" x="538.9" width="1.8" height="5.1"/><rect class="b" x="703.8" width="10.5" height="5.1"/></g>
<g transform="translate(0,1444.2)"><rect class="g" x="538.9" width="1.8" height="5.1"/><rect class="b" x="703.8" width="3.6" height="5.1"/></g>
<g transform="translate(0,1451.1)"><rect class="b" x="538.9" width="1.8" height="5.1"/><rect class="b" x="703.8" width="3.6" height="5.1"/></g>
<g transform="translate(0,1457.9)"><rect class="g" x="538.9" width="1.8" height="5.1"/></g>
<g transform="translate(0,1464.8)"><rect class="b" x="538.9" width="1.8" height="5.1"/></g>
<g transform="translate(0,1471.6)"><rect class="b" x="538.9" width="1.8" height="5.1"/></g>
<g transform="translate(0,1478.4)"><rect class="b" x="538.9" width="1.8" height="5.1"/></g>
<g transform="translate(0,1485.3)"><rect class="g" x="538.9" width="1.8" height="5.1"/></g>
<g transform="translate(0,1492.1)"><rect class="b" x="538.9" width="1.8" height="5.1"/></g>
<g transform="translate(0,1499)"><rect class="b" x="538.9" width="1.8" height="5.1"/></g>
<g transform="translate(0,1505.8)"><rect class="g" x="538.9" width="1.8" height="5.1"/></g>
<g transform="translate(0,1512.6)"><rect class="b" x="538.9" width="1.8" height="5.1"/></g>
<g transform="translate(0,1519.5)"><rect class="b" x="538.9" width="1.8" height="5.1"/></g>
<g transform="translate(0,1526.3)"><rect class="b" x="538.9" width="1.8" height="5.1"/></g>
<g transform="translate(0,1533.2)"><rect class="g" x="538.9" width="1.8" height="5.1"/></g>
</svg>
</body></html>
